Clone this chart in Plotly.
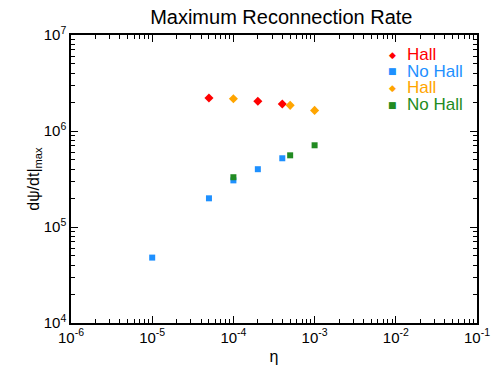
import plotly.graph_objects as go

# Peak reconnection rate versus resistivity eta
eta_hall_a = [5e-5, 2e-4, 4e-4]
rate_hall_a = [2.21e6, 2.04e6, 1.91e6]

eta_nohall_a = [1e-5, 5e-5, 1e-4, 2e-4, 4e-4]
rate_nohall_a = [4.8e4, 1.99e5, 3.06e5, 4.0e5, 5.2e5]

eta_hall_b = [1e-4, 5e-4, 1e-3]
rate_hall_b = [2.17e6, 1.85e6, 1.64e6]

eta_nohall_b = [1e-4, 5e-4, 1e-3]
rate_nohall_b = [3.3e5, 5.58e5, 7.1e5]

legend_labels = ["Hall", "No Hall", "Hall", "No Hall"]
colors = ["#FF0000", "#1E90FF", "#FFA500", "#228B22"]
symbols = ["diamond", "square", "diamond", "square"]
legend_glyphs = ["◆", "■", "◆", "■"]
sizes = [7, 6, 7, 6]

xs_all = [eta_hall_a, eta_nohall_a, eta_hall_b, eta_nohall_b]
ys_all = [rate_hall_a, rate_nohall_a, rate_hall_b, rate_nohall_b]

# Decades shown on each axis (log10 of the limits)
x_decades = [-6, -1]
y_decades = [4, 7]


def major_positions(lo, hi):
    return [10.0 ** n for n in range(lo, hi + 1)]


def major_labels(lo, hi):
    return [f"10<sup>{n}</sup>" for n in range(lo, hi + 1)]


def minor_positions(lo, hi):
    """2..9 x 10^n positions between two decades, for minor tick marks."""
    return [k * 10.0 ** n for n in range(lo, hi) for k in range(2, 10)]


FONT = "Liberation Sans, Arial, Helvetica, sans-serif"

fig = go.Figure()
for name, xs, ys, color, symbol, size in zip(legend_labels, xs_all, ys_all, colors, symbols, sizes):
    fig.add_trace(go.Scatter(
        x=xs, y=ys, mode="markers", name=name, showlegend=False,
        marker=dict(color=color, symbol=symbol, size=size, line=dict(width=0)),
    ))

# Compact in-plot key: glyph + coloured label, one row per series
key_x_sym, key_x_text = 0.793, 0.826
key_y0, key_dy = 0.932, 0.058
for i, (name, color, glyph) in enumerate(zip(legend_labels, colors, legend_glyphs)):
    yk = key_y0 - i * key_dy
    fig.add_annotation(x=key_x_sym, y=yk, xref="paper", yref="paper",
                       text=glyph, showarrow=False, xanchor="center", yanchor="middle",
                       borderpad=0,
                       font=dict(family="DejaVu Sans", size=9, color=color))
    fig.add_annotation(x=key_x_text, y=yk, xref="paper", yref="paper",
                       text=name, showarrow=False, xanchor="left", yanchor="middle",
                       borderpad=0,
                       font=dict(family=FONT, size=17, color=color))


def axis_style(decades):
    return dict(
        type="log",
        range=[decades[0] - 1e-4, decades[1] + 1e-4],
        automargin=False,
        showline=True, linecolor="black", linewidth=1.5,
        mirror="allticks",
        tickmode="array",
        tickvals=major_positions(*decades),
        ticktext=major_labels(*decades),
        ticks="inside", ticklen=7, tickwidth=1, tickcolor="black",
        minor=dict(ticks="inside", ticklen=4, tickwidth=1, tickcolor="black",
                   tickmode="array", tickvals=minor_positions(*decades),
                   showgrid=False),
        showgrid=False, zeroline=False,
        ticklabeloverflow="allow",
        tickfont=dict(family=FONT, size=15, color="black"),
    )


fig.update_xaxes(
    title=dict(text="η", font=dict(family=FONT, size=16, color="black"), standoff=6),
    **axis_style(x_decades),
)
fig.update_yaxes(
    title=dict(text="dψ/dt|<sub>max</sub>", font=dict(family=FONT, size=16, color="black"), standoff=0),
    **axis_style(y_decades),
)

fig.update_layout(
    width=493, height=372,
    margin=dict(l=71, r=16, t=35, b=49, autoexpand=False),
    paper_bgcolor="white", plot_bgcolor="white",
    title=dict(text="Maximum Reconnection Rate", x=0.518, xref="paper", xanchor="center",
               y=0.955, yanchor="middle",
               font=dict(family=FONT, size=20, color="black")),
    showlegend=False,
)

fig.write_html("out.html")
